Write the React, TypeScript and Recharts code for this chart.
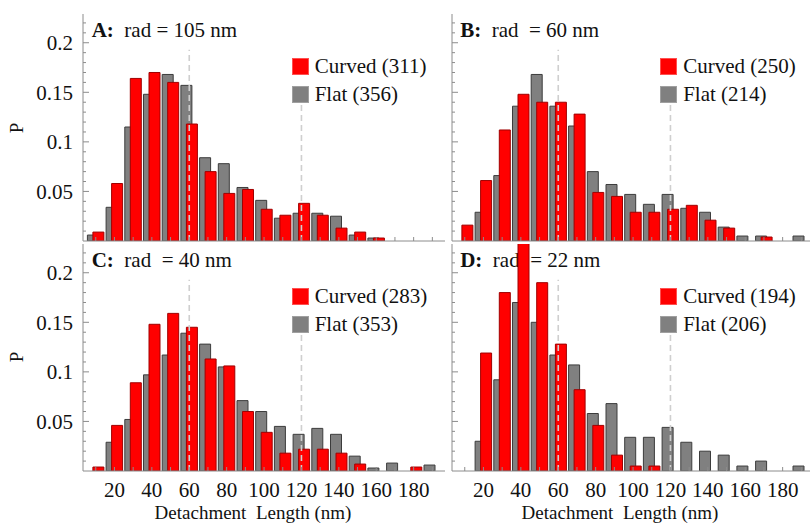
import React from 'react';
import { BarChart, Bar, XAxis, YAxis, ReferenceLine, Legend } from 'recharts';

// histogram bins (centre of each 10 nm bin)
const bins = [10, 20, 30, 40, 50, 60, 70, 80, 90, 100, 110, 120, 130, 140, 150, 160, 170, 180, 190];
const xTickLabels = [20, 40, 60, 80, 100, 120, 140, 160, 180];
const yTicks = [0.01, 0.02, 0.03, 0.04, 0.05, 0.06, 0.07, 0.08, 0.09, 0.1, 0.11, 0.12, 0.13, 0.14, 0.15, 0.16, 0.17, 0.18, 0.19, 0.2, 0.21, 0.22];
const yTickLabels = [0.05, 0.1, 0.15, 0.2];
const markers = [60, 120];

const curvedA = [0.009, 0.058, 0.164, 0.17, 0.16, 0.118, 0.07, 0.048, 0.052, 0.032, 0.026, 0.038, 0.026, 0.013, 0.009, 0.003, 0, 0, 0];
const flatA = [0.006, 0.034, 0.115, 0.148, 0.168, 0.157, 0.084, 0.078, 0.054, 0.041, 0.023, 0.028, 0.028, 0.025, 0.006, 0.003, 0, 0, 0];
const curvedB = [0.016, 0.061, 0.112, 0.148, 0.14, 0.14, 0.128, 0.049, 0.045, 0.029, 0.029, 0.032, 0.036, 0.021, 0.013, 0, 0.004, 0, 0];
const flatB = [0, 0.029, 0.066, 0.136, 0.168, 0.136, 0.116, 0.07, 0.057, 0.047, 0.037, 0.047, 0.033, 0.029, 0.014, 0.005, 0.005, 0, 0.005];
const curvedC = [0.004, 0.046, 0.089, 0.148, 0.159, 0.145, 0.113, 0.106, 0.06, 0.039, 0.018, 0.022, 0.022, 0.018, 0.007, 0, 0, 0.004, 0];
const flatC = [0, 0.029, 0.052, 0.097, 0.117, 0.139, 0.128, 0.105, 0.071, 0.06, 0.045, 0.037, 0.043, 0.037, 0.015, 0.003, 0.008, 0, 0.006];
const curvedD = [0, 0.119, 0.18, 0.232, 0.19, 0.128, 0.082, 0.046, 0.016, 0.005, 0.005, 0, 0, 0, 0, 0, 0, 0, 0];
const flatD = [0, 0.03, 0.092, 0.17, 0.15, 0.117, 0.107, 0.058, 0.068, 0.034, 0.034, 0.044, 0.029, 0.02, 0.016, 0.005, 0.01, 0, 0.005];

const panelLetters = ['A:', 'B:', 'C:', 'D:'];
const radiusTexts = ['rad = 105 nm', 'rad  = 60 nm', 'rad  = 40 nm', 'rad  = 22 nm'];
const curvedCounts = [311, 250, 283, 194];
const flatCounts = [356, 214, 353, 206];

const FONT = '"Liberation Serif", "Times New Roman", serif';
const FRAME = '#8c8c8c';
const PLOT_W = 362;
const PLOT_H = 227;
const Y_MAX = 0.229;

const toRows = (curved: number[], flat: number[]) =>
  bins.map((bin, i) => ({ bin, curved: curved[i], flat: flat[i] }));

const bottomTick = (props: any, showLabel: boolean) => {
  const { x, y, payload } = props;
  const v = payload.value;
  return (
    <g>
      <line x1={x} y1={y} x2={x} y2={y - 4} stroke={FRAME} />
      {showLabel && xTickLabels.includes(v) && (
        <text x={x} y={y + 11} dy="0.71em" textAnchor="middle" fontSize={21} fontFamily={FONT} fill="#111">
          {v}
        </text>
      )}
    </g>
  );
};

const topTick = (props: any) => {
  const { x, y } = props;
  return <line x1={x} y1={y} x2={x} y2={y + 4} stroke={FRAME} />;
};

const leftTick = (props: any, showLabel: boolean) => {
  const { x, y, payload } = props;
  const major = yTickLabels.includes(payload.value);
  return (
    <g>
      <line x1={x} y1={y} x2={x + (major ? 6 : 3)} y2={y} stroke={FRAME} />
      {showLabel && major && (
        <text x={x - 10} y={y} dy="0.355em" textAnchor="end" fontSize={21} fontFamily={FONT} fill="#111">
          {String(payload.value)}
        </text>
      )}
    </g>
  );
};

const rightTick = (props: any) => {
  const { x, y, payload } = props;
  const major = yTickLabels.includes(payload.value);
  return <line x1={x} y1={y} x2={x - (major ? 6 : 3)} y2={y} stroke={FRAME} />;
};

const renderLegend = (props: any) => {
  const items = ['curved', 'flat']
    .map((k) => (props.payload || []).find((p: any) => p.dataKey === k))
    .filter(Boolean);
  return (
    <div style={{ fontFamily: FONT, fontSize: 21, color: '#111' }}>
      {items.map((it: any) => (
        <div key={it.dataKey} style={{ display: 'flex', alignItems: 'center', height: 28, whiteSpace: 'pre' }}>
          <span
            style={{
              display: 'inline-block',
              width: 17,
              height: 17,
              background: it.color,
              boxSizing: 'border-box',
              border: it.dataKey === 'flat' ? '1px solid #a0a0a0' : '1px solid #ff5050',
              marginRight: 6,
            }}
          />
          <span>{it.value}</span>
        </div>
      ))}
    </div>
  );
};

interface PanelProps {
  idx: number;
  plotLeft: number;
  plotTop: number;
  curved: number[];
  flat: number[];
  showX: boolean;
  showY: boolean;
}

const Panel: React.FC<PanelProps> = ({ idx, plotLeft, plotTop, curved, flat, showX, showY }) => {
  const yW = showY ? 83 : 10;
  const xH = showX ? 57 : 2;
  const mTop = 2;
  const width = yW + PLOT_W + 2;
  const height = mTop + PLOT_H + xH;
  const data = toRows(curved, flat);

  return (
    <>
      <div
        style={{
          position: 'absolute',
          left: plotLeft + 8.7,
          top: plotTop + 6,
          fontFamily: FONT,
          fontSize: 21,
          lineHeight: '21px',
          whiteSpace: 'pre',
          color: '#111',
        }}
      >
        <b>{panelLetters[idx]}</b>
        {'  ' + radiusTexts[idx]}
      </div>
      <div style={{ position: 'absolute', left: plotLeft - yW, top: plotTop - mTop }}>
        <BarChart
          width={width}
          height={height}
          data={data}
          margin={{ top: mTop, right: 2, bottom: 0, left: 0 }}
          barGap={-5.5}
          barSize={11}
        >
          <XAxis
            dataKey="bin"
            type="category"
            height={xH}
            interval={0}
            padding={{ left: 3.4, right: 3.3 }}
            axisLine={{ stroke: FRAME }}
            tickLine={false}
            tickSize={0}
            tickMargin={0}
            tick={(p: any) => bottomTick(p, showX)}
          />
          <XAxis
            xAxisId="top"
            orientation="top"
            dataKey="bin"
            type="category"
            height={0}
            interval={0}
            padding={{ left: 3.4, right: 3.3 }}
            axisLine={{ stroke: FRAME }}
            tickLine={false}
            tickSize={0}
            tickMargin={0}
            tick={topTick}
          />
          <YAxis
            type="number"
            width={yW}
            domain={[0, Y_MAX]}
            allowDataOverflow
            ticks={yTicks}
            interval={0}
            axisLine={{ stroke: FRAME }}
            tickLine={false}
            tickSize={0}
            tickMargin={0}
            tick={(p: any) => leftTick(p, showY)}
          />
          <YAxis
            yAxisId="right"
            orientation="right"
            type="number"
            width={0}
            domain={[0, Y_MAX]}
            allowDataOverflow
            ticks={yTicks}
            interval={0}
            axisLine={{ stroke: FRAME }}
            tickLine={false}
            tickSize={0}
            tickMargin={0}
            tick={rightTick}
          />
          <Bar
            dataKey="flat"
            name={`Flat (${flatCounts[idx]})`}
            fill="#808080"
            stroke="#3c3c3c"
            strokeWidth={1}
            isAnimationActive={false}
          />
          <Bar
            dataKey="curved"
            name={`Curved (${curvedCounts[idx]})`}
            fill="#ff0000"
            stroke="#a00000"
            strokeWidth={1}
            isAnimationActive={false}
          />
          <ReferenceLine
            segment={[{ x: markers[0], y: 0 }, { x: markers[0], y: 0.193 }]}
            stroke="#cfcfcf"
            strokeWidth={1.6}
            strokeDasharray="6 4"
          />
          <ReferenceLine
            segment={[{ x: markers[1], y: 0 }, { x: markers[1], y: 0.14 }]}
            stroke="#cfcfcf"
            strokeWidth={1.6}
            strokeDasharray="6 4"
          />
          <Legend
            layout="horizontal"
            verticalAlign="middle"
            align="center"
            content={renderLegend}
            wrapperStyle={{ left: yW + 208.7, top: mTop + 38.5, width: 'auto' }}
          />
        </BarChart>
      </div>
    </>
  );
};

const axisTitle = (centerX: number) => (
  <div
    style={{
      position: 'absolute',
      left: centerX - 150,
      top: 503,
      width: 300,
      textAlign: 'center',
      fontFamily: FONT,
      fontSize: 19,
      lineHeight: '20px',
      whiteSpace: 'pre',
      color: '#111',
    }}
  >
    {'Detachment  Length (nm)'}
  </div>
);

const pLabel = (centerY: number) => (
  <div
    style={{
      position: 'absolute',
      left: -3,
      top: centerY - 12,
      width: 40,
      height: 24,
      lineHeight: '24px',
      textAlign: 'center',
      fontFamily: FONT,
      fontSize: 19,
      color: '#111',
      transform: 'rotate(-90deg)',
    }}
  >
    P
  </div>
);

export default function App() {
  return (
    <div
      style={{
        position: 'absolute',
        left: 0,
        top: 0,
        width: 810,
        height: 527,
        overflow: 'hidden',
        background: '#fff',
      }}
    >
      <Panel idx={0} plotLeft={83} plotTop={14} curved={curvedA} flat={flatA} showX={false} showY />
      <Panel idx={1} plotLeft={451.5} plotTop={14} curved={curvedB} flat={flatB} showX={false} showY={false} />
      <Panel idx={2} plotLeft={83} plotTop={243.5} curved={curvedC} flat={flatC} showX showY />
      <Panel idx={3} plotLeft={451.5} plotTop={243.5} curved={curvedD} flat={flatD} showX showY={false} />
      {pLabel(128)}
      {pLabel(357)}
      {axisTitle(253)}
      {axisTitle(620)}
    </div>
  );
}
